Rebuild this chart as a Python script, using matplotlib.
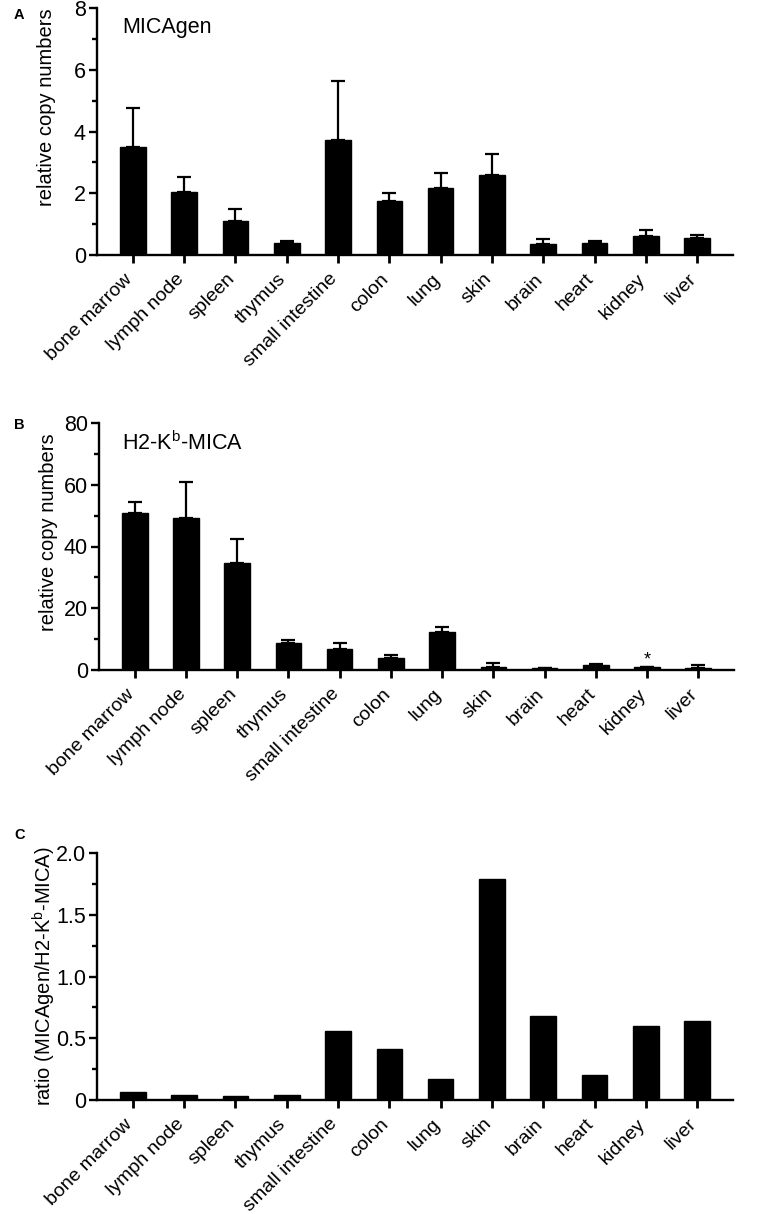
import matplotlib
matplotlib.use("Agg")
import matplotlib.pyplot as plt
from matplotlib.ticker import MultipleLocator
from matplotlib.transforms import ScaledTranslation
import numpy as np

plt.rcParams['font.family'] = ['Liberation Sans', 'DejaVu Sans']
plt.rcParams['mathtext.fontset'] = 'custom'
plt.rcParams['mathtext.rm'] = 'Liberation Sans'

tissues = ["bone marrow", "lymph node", "spleen", "thymus", "small intestine",
           "colon", "lung", "skin", "brain", "heart", "kidney", "liver"]

micagen_mean = [3.50, 2.03, 1.11, 0.38, 3.74, 1.74, 2.17, 2.58, 0.36, 0.38, 0.60, 0.56]
micagen_top = [4.77, 2.52, 1.49, 0.46, 5.62, 2.00, 2.65, 3.27, 0.51, 0.46, 0.80, 0.66]

h2kb_mean = [50.8, 49.1, 34.5, 8.8, 6.8, 4.0, 12.4, 1.1, 0.75, 1.6, 1.0, 0.8]
h2kb_top = [54.3, 60.9, 42.4, 9.7, 8.8, 4.9, 13.9, 2.3, 0.75, 2.1, 1.0, 1.6]

ratio = [0.068, 0.038, 0.030, 0.038, 0.56, 0.416, 0.168, 1.79, 0.684, 0.20, 0.60, 0.638]

W, H = 768, 1214
fig = plt.figure(figsize=(W / 100, H / 100), dpi=100)


def axes_px(left, right, top, bottom):
    return fig.add_axes([left / W, 1 - bottom / H, (right - left) / W, (bottom - top) / H])


def style(ax, ymax, major, minor, yfmt=None):
    x = np.arange(len(tissues))
    ax.set_xlim(-0.7, len(tissues) - 0.3)
    ax.set_ylim(0, ymax)
    for s in ['top', 'right']:
        ax.spines[s].set_visible(False)
    for s in ['left', 'bottom']:
        ax.spines[s].set_linewidth(1.7)
    ax.yaxis.set_major_locator(MultipleLocator(major))
    ax.yaxis.set_minor_locator(MultipleLocator(minor))
    ax.tick_params(axis='y', which='major', length=6, width=1.7, labelsize=15.5, pad=2)
    ax.tick_params(axis='y', which='minor', length=3.5, width=1.7)
    ax.tick_params(axis='x', which='major', length=6, width=2.0, labelsize=14, pad=3)
    ax.set_xticks(x)
    ax.set_xticklabels(tissues, rotation=45, ha='right', rotation_mode='anchor')
    off = ScaledTranslation(-0.09, -0.03, fig.dpi_scale_trans)
    for lab in ax.get_xticklabels():
        lab.set_transform(lab.get_transform() + off)
    if yfmt:
        ax.yaxis.set_major_formatter(yfmt)


def draw_err(ax, means, tops):
    x = np.arange(len(tissues))
    up = np.array(tops) - np.array(means)
    lo = np.zeros_like(up)
    ax.errorbar(x, means, yerr=[lo, up], fmt='none', ecolor='black',
                elinewidth=1.6, capsize=5, capthick=1.6, zorder=1)


x = np.arange(len(tissues))

# Panel A
axA = axes_px(97, 733, 8, 255)
draw_err(axA, micagen_mean, micagen_top)
axA.bar(x, micagen_mean, width=0.5, color='black', edgecolor='black', zorder=2)
style(axA, 8, 2, 1)
axA.set_ylabel("relative copy numbers", fontsize=14.5)
axA.yaxis.set_label_coords(-0.064, 0.599)
axA.text(0.039, 0.923, "MICAgen", transform=axA.transAxes, fontsize=15.5, va='center', ha='left')

# Panel B
axB = axes_px(99, 734, 423, 670)
draw_err(axB, h2kb_mean, h2kb_top)
axB.bar(x, h2kb_mean, width=0.5, color='black', edgecolor='black', zorder=2)
style(axB, 80, 20, 10)
axB.set_ylabel("relative copy numbers", fontsize=14.5)
axB.yaxis.set_label_coords(-0.064, 0.559)
axB.text(0.036, 0.92, r"H2-K$^{\mathregular{b}}$-MICA", transform=axB.transAxes,
         fontsize=15.5, va='center', ha='left')
kid = tissues.index("kidney")
axB.annotate("*", (kid, h2kb_top[kid]), xytext=(0, -1), textcoords='offset points',
             ha='center', va='bottom', fontsize=13)

# Panel C
axC = axes_px(97, 733, 853, 1100)
axC.bar(x, ratio, width=0.5, color='black', edgecolor='black', zorder=2)
style(axC, 2.0, 0.5, 0.25,
      yfmt=matplotlib.ticker.FuncFormatter(lambda v, p: "0" if v == 0 else f"{v:.1f}"))
axC.set_ylabel(r"ratio (MICAgen/H2-K$^{\mathregular{b}}$-MICA)", fontsize=14.5)
axC.yaxis.set_label_coords(-0.062, 0.5)

# panel letters
for lab, ypx in [("A", 15), ("B", 425), ("C", 835)]:
    fig.text(14 / W, 1 - ypx / H, lab, fontsize=10.5, fontweight='bold', ha='left', va='center')

fig.savefig("out.png", dpi=100)
